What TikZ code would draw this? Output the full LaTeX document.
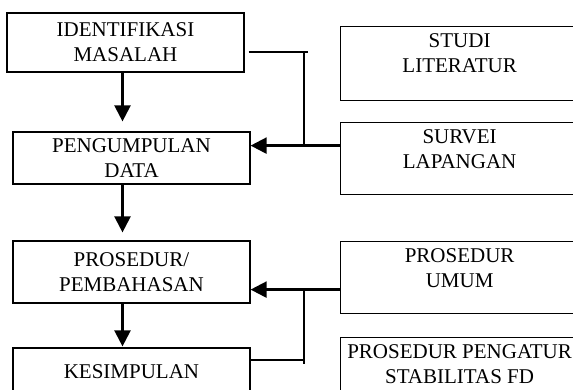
\documentclass[tikz,border=0pt]{standalone}
\usepackage{fontspec}
\setmainfont{Liberation Serif}
\usetikzlibrary{arrows.meta,positioning,calc}
\newcommand{\flowfont}{\fontsize{21}{25}\selectfont}
\tikzset{
  % Main stages (left column)
  stage/.style={draw,line width=1.2pt,minimum width=237pt,inner ysep=0pt,
                align=center,font=\flowfont},
  % Supporting inputs (right column), text set at the top
  src/.style={draw,line width=1.2pt,anchor=north west,minimum width=238pt,
              inner ysep=0pt,align=center,text height=46pt,text depth=#1,
              font=\flowfont},
  % Connectors
  fl/.style={-{Triangle[length=16pt,width=16pt]},line width=2.3pt},
  lnk/.style={line width=1.1pt}
}
\begin{document}
\begin{tikzpicture}[x=1pt,y=-1pt]
  \useasboundingbox (0,0) rectangle (573,390);
  \clip (0,0) rectangle (573,390);

  % Stages
  \node[stage,minimum height=59pt] (ident)  at (125.5,42.5) {IDENTIFIKASI\\MASALAH};
  \node[stage,minimum height=52pt] (data)   at (131.5,158)  {PENGUMPULAN\\DATA};
  \node[stage,minimum height=62pt] (bahas)  at (131.5,272)  {PROSEDUR/\\PEMBAHASAN};
  \node[stage,minimum height=48pt] (simpul) at (131.5,372)  {KESIMPULAN};

  % Inputs
  \node[src=28pt] (studi)  at (340,26)  {STUDI\\LITERATUR};
  \node[src=26pt] (survei) at (340,122) {SURVEI\\LAPANGAN};
  \node[src=26pt] (umum)   at (340,241) {PROSEDUR\\UMUM};
  \node[src=28pt] (atur)   at (340,337) {PROSEDUR PENGATUR\\STABILITAS FD};

  % Main sequence
  \coordinate (axis) at (122.5,0);
  \draw[fl,shorten >=10pt] (ident.south -| axis) -- (data.north -| axis);
  \draw[fl,shorten >=8pt]  (data.south -| axis)  -- (bahas.north -| axis);
  \draw[fl,shorten >=1pt]  (bahas.south -| axis) -- (simpul.north -| axis);

  % Upper bracket into data collection
  \coordinate (jtop) at (304,52);
  \coordinate (fin) at ([yshift=13pt]survei.west);
  \draw[lnk,shorten <=4pt] (ident.east |- jtop) -- ([xshift=4pt]jtop);
  \draw[lnk] (jtop) -- (jtop |- fin);
  \draw[fl] (fin) -- (fin -| data.east);

  % Lower bracket into procedure
  \coordinate (fout) at ([yshift=-12pt]umum.west);
  \coordinate (jend) at (304,364);
  \coordinate (kend) at ([yshift=12pt]simpul.east);
  \draw[fl] (fout) -- (fout -| bahas.east);
  \draw[lnk] (jtop |- fout) -- (jend);
  \draw[lnk] (kend) -- ++(52,0);
\end{tikzpicture}
\end{document}
